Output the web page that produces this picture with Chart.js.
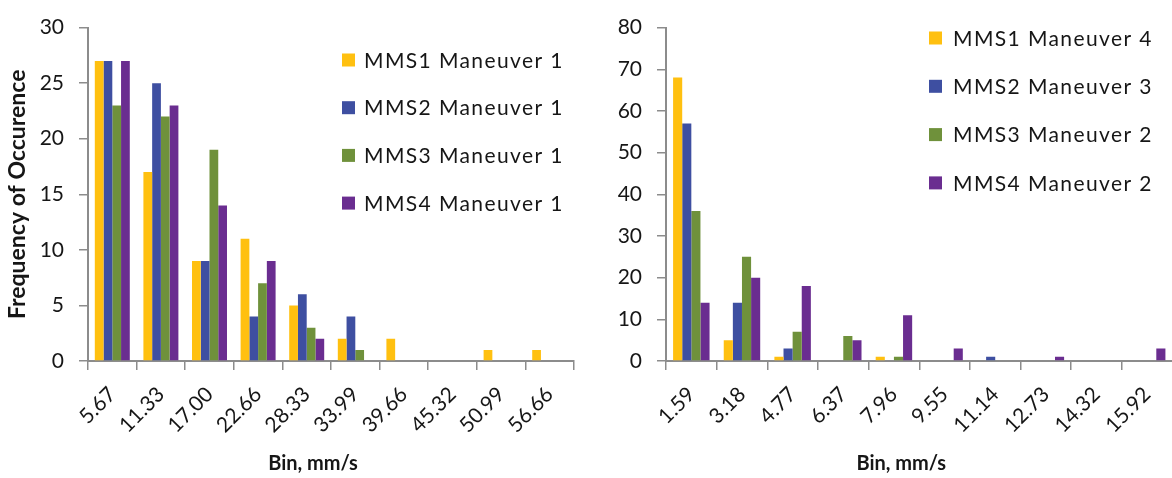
<!DOCTYPE html>
<html>
<head>
<meta charset="utf-8">
<script src="https://cdn.jsdelivr.net/npm/chart.js@4"></script>
<style>
  html, body { margin: 0; padding: 0; background: #fff; overflow: hidden; width: 1172px; height: 478px; }
  .panel { position: absolute; top: 0; height: 478px; }
  #leftPanel { left: 0; width: 590px; }
  #rightPanel { left: 590px; width: 587px; }
</style>
</head>
<body>
<div class="panel" id="leftPanel"><canvas id="chartLeft"></canvas></div>
<div class="panel" id="rightPanel"><canvas id="chartRight"></canvas></div>
<script>
// Bin centres (mm/s)
const binsLeft  = ['5.67', '11.33', '17.00', '22.66', '28.33', '33.99', '39.66', '45.32', '50.99', '56.66'];
const binsRight = ['1.59', '3.18', '4.77', '6.37', '7.96', '9.55', '11.14', '12.73', '14.32', '15.92'];

// Frequency of occurrence per bin, maneuver set 1
const mms1Man1 = [27, 17, 9, 11, 5, 2, 2, 0, 1, 1];
const mms2Man1 = [27, 25, 9, 4, 6, 4, 0, 0, 0, 0];
const mms3Man1 = [23, 22, 19, 7, 3, 1, 0, 0, 0, 0];
const mms4Man1 = [27, 23, 14, 9, 2, 0, 0, 0, 0, 0];

// Frequency of occurrence per bin, later maneuvers
const mms1Man4 = [68, 5, 1, 0, 1, 0, 0, 0, 0, 0];
const mms2Man3 = [57, 14, 3, 0, 0, 0, 1, 0, 0, 0];
const mms3Man2 = [36, 25, 7, 6, 1, 0, 0, 0, 0, 0];
const mms4Man2 = [14, 20, 18, 5, 11, 3, 0, 1, 0, 3];

// Axis ranges
const leftYMax = 30, leftYStep = 5;
const rightYMax = 80, rightYStep = 10;

const COLORS = ['#FFC010', '#3E4FA1', '#6F913B', '#6A2D90'];
const TEXT = '#161616';
const AXIS = '#8c8c8c';
const FONT = "Lato, 'Liberation Sans', Arial, sans-serif";

// Legend drawn over the plot area
const legendOverlay = {
  id: 'legendOverlay',
  afterDraw(chart, args, opts) {
    const ctx = chart.ctx;
    ctx.save();
    ctx.font = opts.font;
    if ('letterSpacing' in ctx) ctx.letterSpacing = opts.spacing;
    ctx.textBaseline = 'middle';
    ctx.textAlign = 'left';
    chart.data.datasets.forEach((ds, i) => {
      const y = opts.y + i * opts.gap;
      ctx.fillStyle = ds.backgroundColor;
      ctx.fillRect(opts.x, y - 6.5, 13, 13);
      ctx.fillStyle = TEXT;
      ctx.fillText(ds.label, opts.x + opts.textOffset, y + 1);
    });
    ctx.restore();
  }
};

// X-axis caption, centred a little left of the plot centre
const axisCaption = {
  id: 'axisCaption',
  afterDraw(chart, args, opts) {
    const ctx = chart.ctx;
    const area = chart.chartArea;
    ctx.save();
    ctx.font = opts.font;
    ctx.fillStyle = TEXT;
    ctx.textAlign = 'center';
    ctx.textBaseline = 'middle';
    ctx.fillText(opts.text, (area.left + area.right) / 2 + opts.dx, opts.y);
    ctx.restore();
  }
};

function makeDatasets(labels, series) {
  return series.map((data, i) => ({
    label: labels[i],
    data: data,
    backgroundColor: COLORS[i],
    borderWidth: 0,
    categoryPercentage: 0.72,
    barPercentage: 1.0
  }));
}

function makeChart(canvasId, bins, datasets, yMax, yStep, yWidth, padding, legend, yTitle) {
  return new Chart(document.getElementById(canvasId), {
    type: 'bar',
    data: { labels: bins, datasets: datasets },
    plugins: [legendOverlay, axisCaption],
    options: {
      responsive: true,
      maintainAspectRatio: false,
      animation: false,
      devicePixelRatio: 1,
      layout: { padding: padding },
      plugins: {
        legend: { display: false },
        tooltip: { enabled: false },
        legendOverlay: legend,
        axisCaption: { text: 'Bin, mm/s', font: 'bold 20px ' + FONT, dx: -18, y: 464 }
      },
      scales: {
        x: {
          offset: true,
          grid: {
            offset: true,
            drawOnChartArea: false,
            drawTicks: true,
            tickLength: 9,
            color: AXIS,
            lineWidth: 1.5
          },
          border: { color: AXIS, width: 2 },
          ticks: {
            color: TEXT,
            font: { family: FONT, size: 21 },
            minRotation: 45,
            maxRotation: 45,
            padding: 12,
            autoSkip: false
          },
          afterFit(scale) { scale.height = 117; }
        },
        y: {
          min: 0,
          max: yMax,
          ticks: {
            stepSize: yStep,
            color: TEXT,
            font: { family: FONT, size: 21 },
            padding: 15
          },
          grid: {
            drawOnChartArea: false,
            drawTicks: true,
            tickLength: 9,
            color: AXIS,
            lineWidth: 1.5
          },
          border: { color: AXIS, width: 2 },
          title: {
            display: !!yTitle,
            text: yTitle || '',
            color: TEXT,
            font: { family: FONT, size: 23, weight: 'bold' },
            padding: { top: 4, bottom: 0 }
          },
          afterFit(scale) { scale.width = yWidth; }
        }
      }
    }
  });
}

makeChart(
  'chartLeft', binsLeft,
  makeDatasets(['MMS1 Maneuver 1', 'MMS2 Maneuver 1', 'MMS3 Maneuver 1', 'MMS4 Maneuver 1'],
               [mms1Man1, mms2Man1, mms3Man1, mms4Man1]),
  leftYMax, leftYStep, 88,
  { top: 20, right: 16, left: 0, bottom: 0 },
  { x: 342, y: 60, gap: 47.7, textOffset: 22, font: '21px ' + FONT, spacing: '1.4px' },
  'Frequency of Occurence'
);

makeChart(
  'chartRight', binsRight,
  makeDatasets(['MMS1 Maneuver 4', 'MMS2 Maneuver 3', 'MMS3 Maneuver 2', 'MMS4 Maneuver 2'],
               [mms1Man4, mms2Man3, mms3Man2, mms4Man2]),
  rightYMax, rightYStep, 76,
  { top: 21, right: 0, left: 0, bottom: 0 },
  { x: 339, y: 38, gap: 48.3, textOffset: 24, font: '21px ' + FONT, spacing: '1.4px' },
  null
);
</script>
</body>
</html>
